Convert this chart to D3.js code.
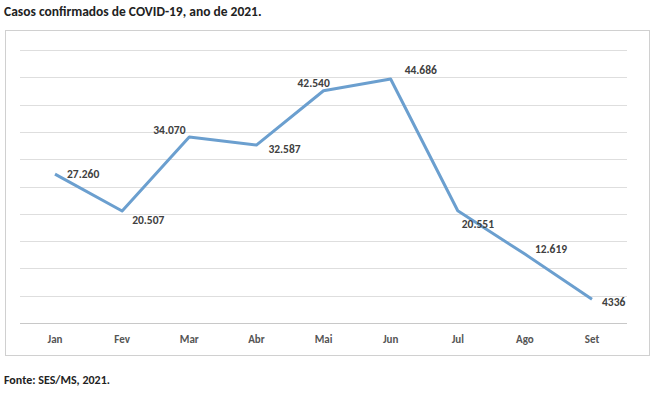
<!DOCTYPE html>
<html><head><meta charset="utf-8">
<script src="https://cdn.jsdelivr.net/npm/d3@7"></script>
<style>
body{margin:0;background:#fff;font-family:Calibri,"Liberation Sans",Arial,sans-serif;}
</style></head><body>
<svg id="chart" width="660" height="404"></svg>
<script>
var months = ["Jan", "Fev", "Mar", "Abr", "Mai", "Jun", "Jul", "Ago", "Set"];
var cases = [27260, 20507, 34070, 32587, 42540, 44686, 20551, 12619, 4336];
var caseLabels = ["27.260", "20.507", "34.070", "32.587", "42.540", "44.686", "20.551", "12.619", "4336"];
var yTicks = [0, 5000, 10000, 15000, 20000, 25000, 30000, 35000, 40000, 45000, 50000];

// label placement: dx, dy relative to each point
var labelOffset = [[12, 0], [10, 9], [-36, -7], [12, 4], [-26, -8], [14, -9], [4, 13], [10, -5], [10, 3]];

var svg = d3.select("#chart");

svg.append("text").attr("x", 4).attr("y", 16)
    .style("font-size", "13.5px").style("font-weight", "bold").attr("fill", "#222")
    .text("Casos confirmados de COVID-19, ano de 2021.");

svg.append("rect").attr("x", 5.5).attr("y", 30.5).attr("width", 644).attr("height", 325)
    .attr("fill", "none").attr("stroke", "#d0d0d0");

var x = d3.scalePoint().domain(months).range([55, 592]);
var y = d3.scaleLinear().domain([0, 50000]).range([323, 50]);

svg.append("g").selectAll("line").data(yTicks).enter().append("line")
    .attr("x1", 20).attr("x2", 627)
    .attr("y1", function (d) { return Math.round(y(d)) + 0.5; })
    .attr("y2", function (d) { return Math.round(y(d)) + 0.5; })
    .attr("stroke", function (d) { return d === 0 ? "#c8c8c8" : "#dedede"; });

svg.append("g").selectAll("text").data(months).enter().append("text")
    .attr("x", function (d) { return x(d); }).attr("y", 343)
    .attr("text-anchor", "middle").style("font-size", "11px").style("font-weight", "bold")
    .attr("fill", "#555").text(function (d) { return d; });

var line = d3.line()
    .x(function (d, i) { return x(months[i]); })
    .y(function (d) { return y(d); });

svg.append("path").datum(cases).attr("d", line)
    .attr("fill", "none").attr("stroke", "#6b9fcf").attr("stroke-width", 3)
    .attr("stroke-linejoin", "round");

svg.append("g").selectAll("text").data(cases).enter().append("text")
    .attr("x", function (d, i) { return x(months[i]) + labelOffset[i][0]; })
    .attr("y", function (d, i) { return y(d) + labelOffset[i][1]; })
    .attr("dy", "0.35em").style("font-size", "11.5px").style("font-weight", "bold")
    .attr("fill", "#404040").text(function (d, i) { return caseLabels[i]; });

svg.append("text").attr("x", 4).attr("y", 384)
    .style("font-size", "12px").style("font-weight", "bold").attr("fill", "#222")
    .text("Fonte: SES/MS, 2021.");
</script>
</body></html>
